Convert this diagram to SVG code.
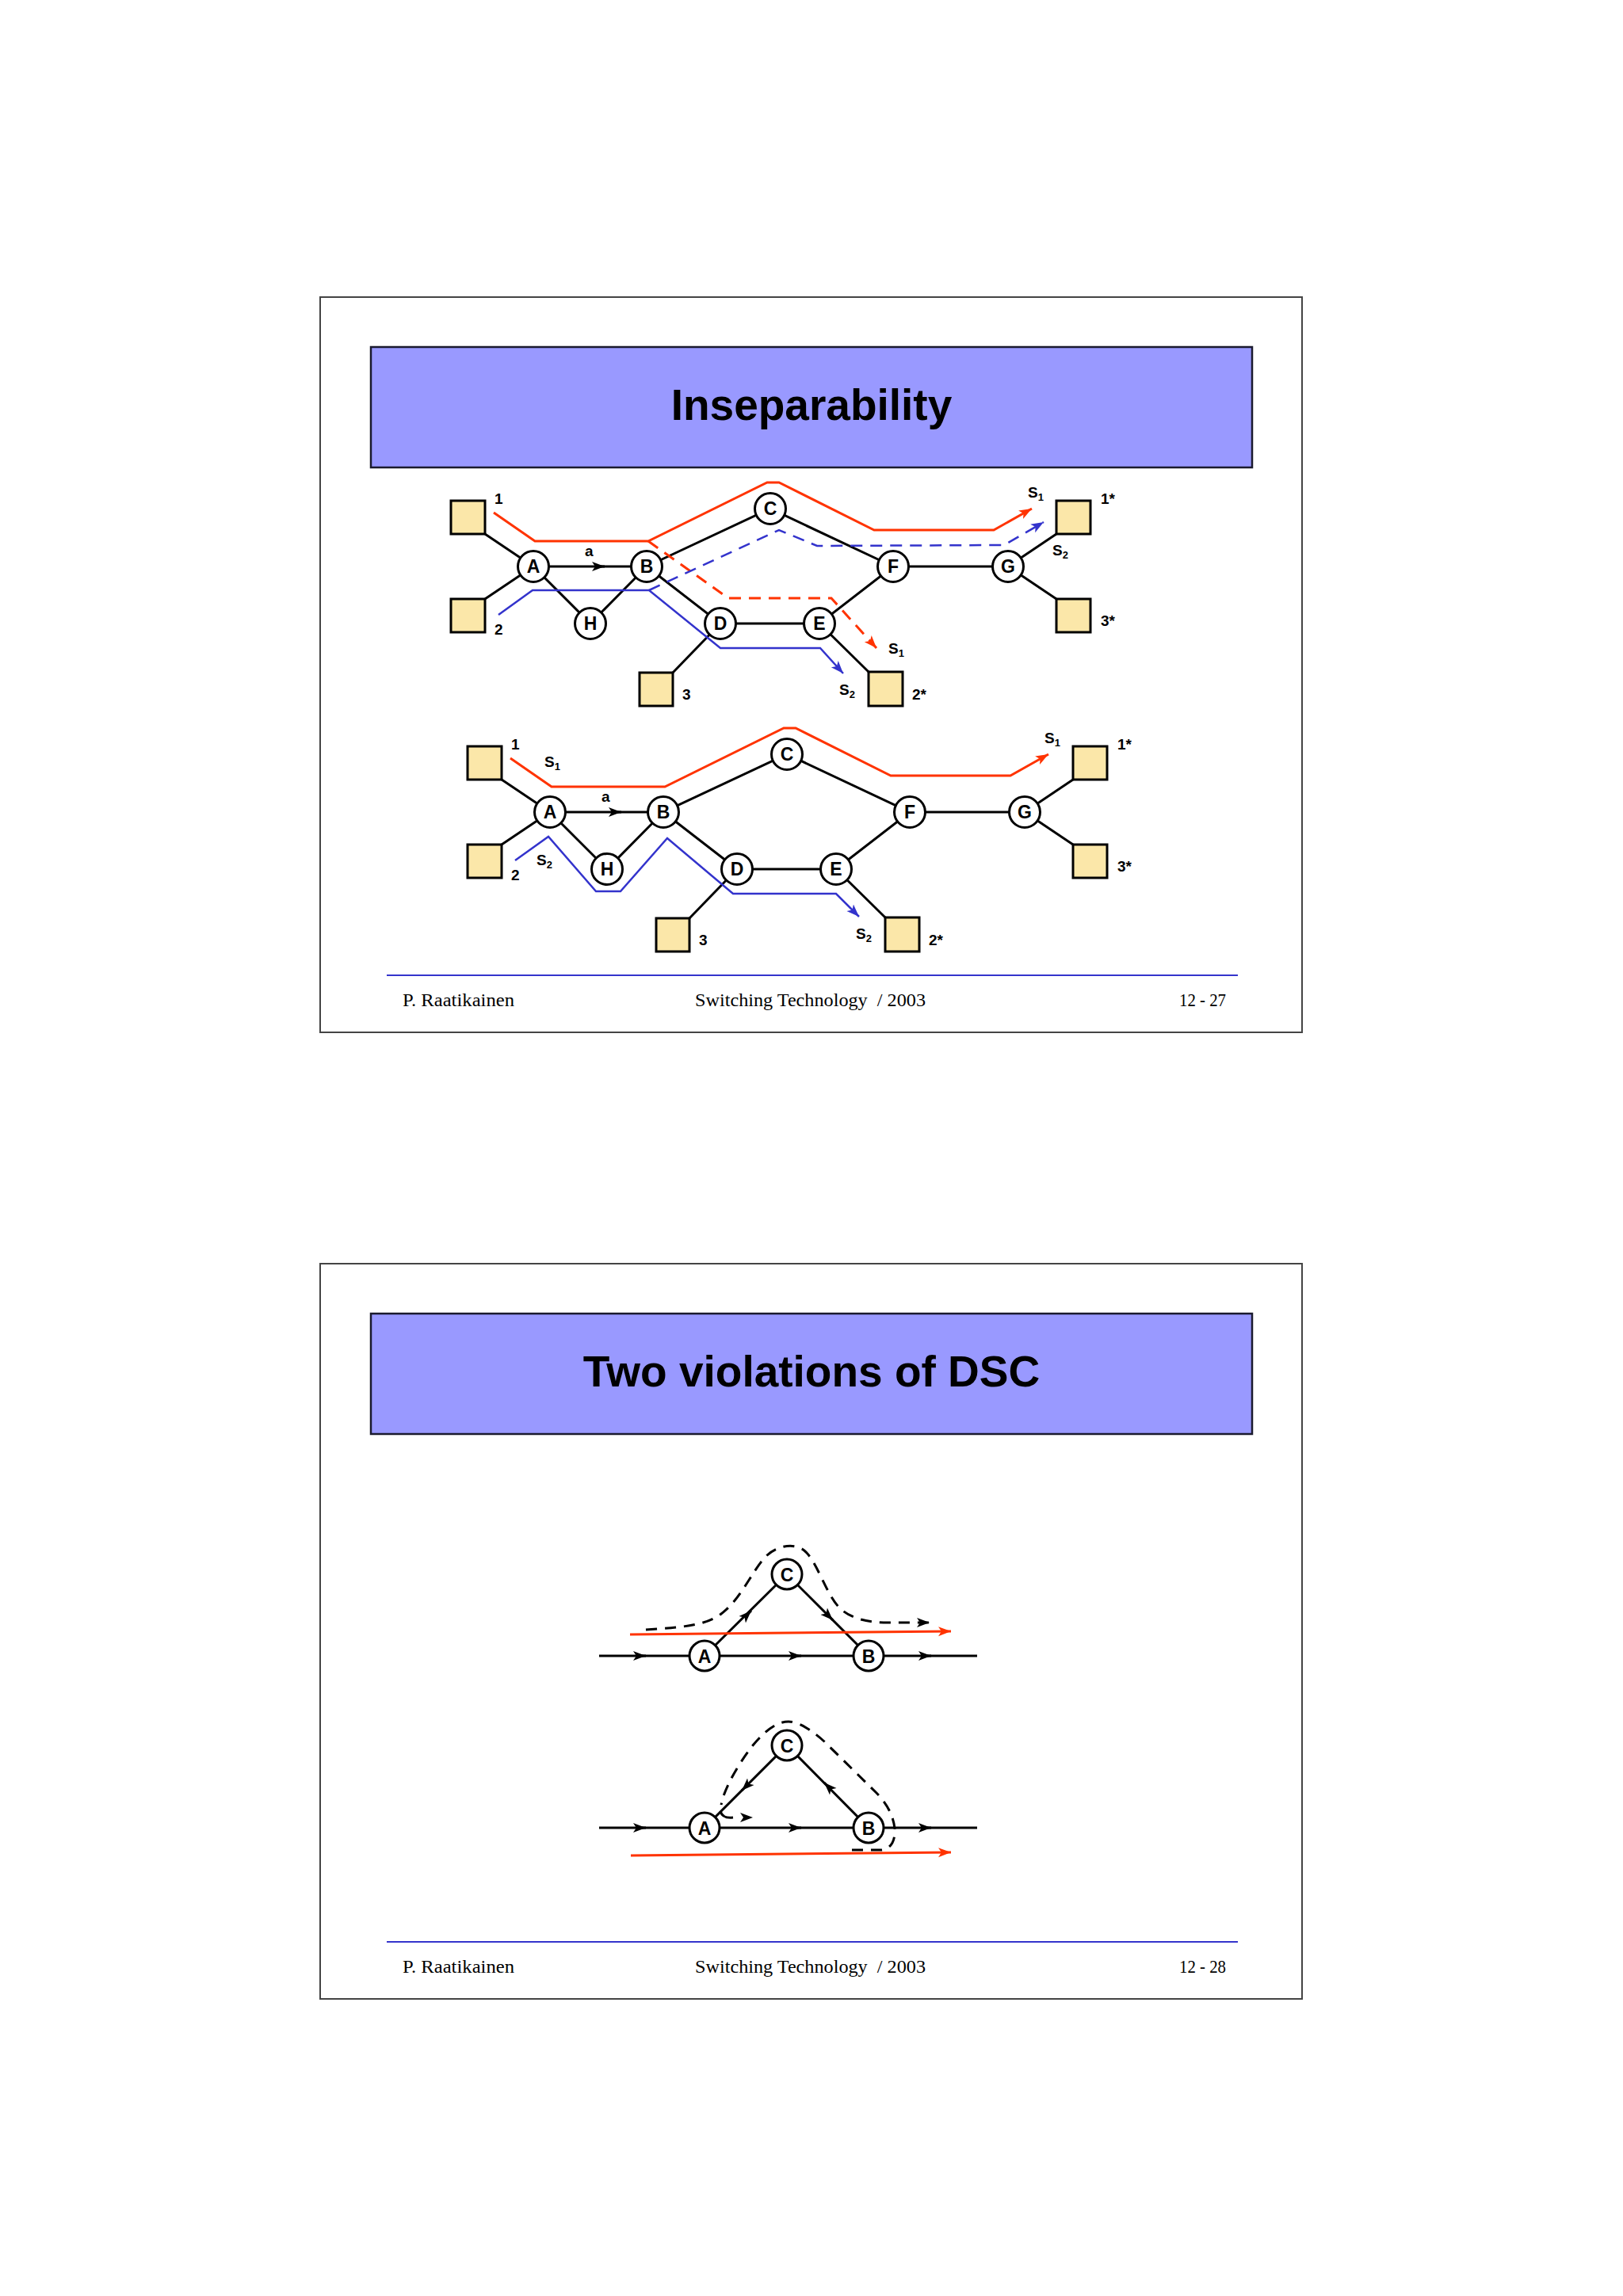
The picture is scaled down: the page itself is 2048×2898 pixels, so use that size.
<svg xmlns="http://www.w3.org/2000/svg" width="2048" height="2898" viewBox="0 0 2048 2898">
<style>
.frame{fill:#fff;stroke:#444;stroke-width:2}
.tbox{fill:#9999ff;stroke:#1a1a2e;stroke-width:2.5}
.ttl{font-family:"Liberation Sans",Arial,sans-serif;font-weight:bold;font-size:55px;text-anchor:middle;fill:#000}
.foot{font-family:"Liberation Serif","Times New Roman",serif;font-size:23px;fill:#000}
.fline{stroke:#3535cc;stroke-width:2}
.edge{stroke:#000;stroke-width:3;fill:none}
.nd{fill:#fff;stroke:#000;stroke-width:3}
.nl{font-family:"Liberation Sans",Arial,sans-serif;font-weight:bold;font-size:23px;text-anchor:middle;fill:#000}
.term{fill:#fbe7a9;stroke:#000;stroke-width:3}
.lbl{font-family:"Liberation Sans",Arial,sans-serif;font-weight:bold;font-size:19px;fill:#000}
.sub{font-size:13px}
.red{stroke:#ff3300;stroke-width:3;fill:none}
.blue{stroke:#3333cc;stroke-width:2.5;fill:none}
.dash{stroke-dasharray:15 10}
.kdash{stroke:#000;stroke-width:3;fill:none;stroke-dasharray:14 10}
</style>
<defs>
<marker id="ak" markerUnits="userSpaceOnUse" markerWidth="18" markerHeight="14" refX="16" refY="7" orient="auto" viewBox="0 0 18 14"><path d="M0,1 L16,7 L0,13 L4,7 z" fill="#000"/></marker>
<marker id="ar" markerUnits="userSpaceOnUse" markerWidth="18" markerHeight="14" refX="16" refY="7" orient="auto" viewBox="0 0 18 14"><path d="M0,1 L16,7 L0,13 L4,7 z" fill="#ff3300"/></marker>
<marker id="ab" markerUnits="userSpaceOnUse" markerWidth="18" markerHeight="14" refX="16" refY="7" orient="auto" viewBox="0 0 18 14"><path d="M0,1 L16,7 L0,13 L4,7 z" fill="#3333cc"/></marker>
</defs>
<rect width="2048" height="2898" fill="#fff"/>

<!-- ================= SLIDE 1 ================= -->
<g id="slide1">
<rect class="frame" x="404" y="375" width="1239" height="928"/>
<rect class="tbox" x="468" y="438" width="1112" height="152"/>
<text class="ttl" x="1024" y="530">Inseparability</text>

<!-- upper diagram -->
<g id="s1-upper">
<g id="s1u-connectors">
<path class="edge" d="M612,674 L673,715"/>
<path class="edge" d="M612,756 L673,715"/>
<path class="edge" d="M673,715 L816,715"/>
<path class="edge" d="M752,715 L763,715" marker-end="url(#ak)"/>
<path class="edge" d="M673,715 L745,787 L816,715"/>
<path class="edge" d="M816,715 L972,642 L1127,715"/>
<path class="edge" d="M816,715 L909,787 L1034,787 L1127,715 L1272,715"/>
<path class="edge" d="M1272,715 L1333,674"/>
<path class="edge" d="M1272,715 L1333,756"/>
<path class="edge" d="M909,787 L849,849"/>
<path class="edge" d="M1034,787 L1096,848"/>
</g>
<g id="s1u-A"><circle class="nd" cx="673" cy="715" r="19.5"/><text class="nl" x="673" y="723">A</text></g>
<g id="s1u-B"><circle class="nd" cx="816" cy="715" r="19.5"/><text class="nl" x="816" y="723">B</text></g>
<g id="s1u-C"><circle class="nd" cx="972" cy="642" r="19.5"/><text class="nl" x="972" y="650">C</text></g>
<g id="s1u-H"><circle class="nd" cx="745" cy="787" r="19.5"/><text class="nl" x="745" y="795">H</text></g>
<g id="s1u-D"><circle class="nd" cx="909" cy="787" r="19.5"/><text class="nl" x="909" y="795">D</text></g>
<g id="s1u-E"><circle class="nd" cx="1034" cy="787" r="19.5"/><text class="nl" x="1034" y="795">E</text></g>
<g id="s1u-F"><circle class="nd" cx="1127" cy="715" r="19.5"/><text class="nl" x="1127" y="723">F</text></g>
<g id="s1u-G"><circle class="nd" cx="1272" cy="715" r="19.5"/><text class="nl" x="1272" y="723">G</text></g>
<g id="s1u-t1"><rect class="term" x="569" y="632" width="43" height="42"/><text class="lbl" x="624" y="636">1</text></g>
<g id="s1u-t2"><rect class="term" x="569" y="756" width="43" height="42"/><text class="lbl" x="624" y="801">2</text></g>
<g id="s1u-t3"><rect class="term" x="807" y="849" width="42" height="42"/><text class="lbl" x="861" y="883">3</text></g>
<g id="s1u-t2s"><rect class="term" x="1096" y="848" width="43" height="43"/><text class="lbl" x="1151" y="883">2*</text></g>
<g id="s1u-t1s"><rect class="term" x="1333" y="632" width="43" height="42"/><text class="lbl" x="1389" y="636">1*</text></g>
<g id="s1u-t3s"><rect class="term" x="1333" y="756" width="43" height="42"/><text class="lbl" x="1389" y="790">3*</text></g>
<text class="lbl" x="738" y="702" font-size="22">a</text>
<g id="s1u-paths">
<path class="red" d="M623,647 L675,683 L818,683 L968,609 L983,609 L1103,669 L1254,669 L1302,642" marker-end="url(#ar)"/>
<path class="red dash" d="M818,683 L919,755 L1049,755 L1106,818" marker-end="url(#ar)"/>
<path class="blue" d="M629,776 L672,745 L819,745 L909,818 L1035,818 L1064,850" marker-end="url(#ab)"/>
<path class="blue dash" d="M819,745 L983,669 L1031,689 L1267,688 L1317,659" marker-end="url(#ab)"/>
</g>
<text class="lbl" x="1297" y="628">S<tspan class="sub" dy="4">1</tspan></text>
<text class="lbl" x="1328" y="701">S<tspan class="sub" dy="4">2</tspan></text>
<text class="lbl" x="1121" y="825">S<tspan class="sub" dy="4">1</tspan></text>
<text class="lbl" x="1059" y="877">S<tspan class="sub" dy="4">2</tspan></text>
</g>

<!-- lower diagram -->
<g id="s1-lower" transform="translate(21,310)">
<g id="s1l-connectors">
<path class="edge" d="M612,674 L673,715"/>
<path class="edge" d="M612,756 L673,715"/>
<path class="edge" d="M673,715 L816,715"/>
<path class="edge" d="M752,715 L763,715" marker-end="url(#ak)"/>
<path class="edge" d="M673,715 L745,787 L816,715"/>
<path class="edge" d="M816,715 L972,642 L1127,715"/>
<path class="edge" d="M816,715 L909,787 L1034,787 L1127,715 L1272,715"/>
<path class="edge" d="M1272,715 L1333,674"/>
<path class="edge" d="M1272,715 L1333,756"/>
<path class="edge" d="M909,787 L849,849"/>
<path class="edge" d="M1034,787 L1096,848"/>
</g>
<g id="s1l-A"><circle class="nd" cx="673" cy="715" r="19.5"/><text class="nl" x="673" y="723">A</text></g>
<g id="s1l-B"><circle class="nd" cx="816" cy="715" r="19.5"/><text class="nl" x="816" y="723">B</text></g>
<g id="s1l-C"><circle class="nd" cx="972" cy="642" r="19.5"/><text class="nl" x="972" y="650">C</text></g>
<g id="s1l-H"><circle class="nd" cx="745" cy="787" r="19.5"/><text class="nl" x="745" y="795">H</text></g>
<g id="s1l-D"><circle class="nd" cx="909" cy="787" r="19.5"/><text class="nl" x="909" y="795">D</text></g>
<g id="s1l-E"><circle class="nd" cx="1034" cy="787" r="19.5"/><text class="nl" x="1034" y="795">E</text></g>
<g id="s1l-F"><circle class="nd" cx="1127" cy="715" r="19.5"/><text class="nl" x="1127" y="723">F</text></g>
<g id="s1l-G"><circle class="nd" cx="1272" cy="715" r="19.5"/><text class="nl" x="1272" y="723">G</text></g>
<g id="s1l-t1"><rect class="term" x="569" y="632" width="43" height="42"/><text class="lbl" x="624" y="636">1</text></g>
<g id="s1l-t2"><rect class="term" x="569" y="756" width="43" height="42"/><text class="lbl" x="624" y="801">2</text></g>
<g id="s1l-t3"><rect class="term" x="807" y="849" width="42" height="42"/><text class="lbl" x="861" y="883">3</text></g>
<g id="s1l-t2s"><rect class="term" x="1096" y="848" width="43" height="43"/><text class="lbl" x="1151" y="883">2*</text></g>
<g id="s1l-t1s"><rect class="term" x="1333" y="632" width="43" height="42"/><text class="lbl" x="1389" y="636">1*</text></g>
<g id="s1l-t3s"><rect class="term" x="1333" y="756" width="43" height="42"/><text class="lbl" x="1389" y="790">3*</text></g>
<text class="lbl" x="738" y="702" font-size="22">a</text>
<g id="s1l-paths">
<path class="red" d="M623,647 L675,683 L818,683 L968,609 L983,609 L1103,669 L1254,669 L1302,642" marker-end="url(#ar)"/>
<path class="blue" d="M629,776 L671,746 L731,815 L762,815 L821,748 L904,818 L1034,818 L1063,847" marker-end="url(#ab)"/>
</g>
<text class="lbl" x="666" y="658">S<tspan class="sub" dy="4">1</tspan></text>
<text class="lbl" x="656" y="782">S<tspan class="sub" dy="4">2</tspan></text>
<text class="lbl" x="1297" y="628">S<tspan class="sub" dy="4">1</tspan></text>
<text class="lbl" x="1059" y="875">S<tspan class="sub" dy="4">2</tspan></text>
</g>

<line class="fline" x1="488" y1="1231" x2="1562" y2="1231"/>
<text class="foot" x="508" y="1270" textLength="141" lengthAdjust="spacingAndGlyphs">P. Raatikainen</text>
<text class="foot" x="877" y="1270" textLength="291" lengthAdjust="spacingAndGlyphs" xml:space="preserve">Switching Technology  / 2003</text>
<text class="foot" x="1488" y="1270" textLength="59" lengthAdjust="spacingAndGlyphs">12 - 27</text>
</g>

<!-- ================= SLIDE 2 ================= -->
<g id="slide2">
<rect class="frame" x="404" y="1595" width="1239" height="928"/>
<rect class="tbox" x="468" y="1658" width="1112" height="152"/>
<text class="ttl" x="1024" y="1750">Two violations of DSC</text>

<!-- figure 1 -->
<g id="s2-fig1">
<g id="s2f1-connectors">
<path class="edge" d="M756,2090 L1233,2090"/>
<path class="edge" d="M805,2090 L815,2090" marker-end="url(#ak)"/>
<path class="edge" d="M1001,2090 L1011,2090" marker-end="url(#ak)"/>
<path class="edge" d="M1165,2090 L1175,2090" marker-end="url(#ak)"/>
<path class="edge" d="M889,2090 L993,1987 L1096,2090"/>
<path class="edge" d="M941,2040 L948,2033" marker-end="url(#ak)"/>
<path class="edge" d="M1044,2038 L1051,2045" marker-end="url(#ak)"/>
<path class="red" d="M795,2063 L1200,2059" marker-end="url(#ar)"/>
<path class="kdash" d="M815,2057 C860,2054 890,2052 910,2037 C935,2018 948,1985 965,1966 C978,1951 1005,1945 1018,1960 C1032,1975 1042,2010 1058,2028 C1072,2043 1095,2048 1120,2048 L1173,2048" marker-end="url(#ak)"/>
</g>
<g id="s2f1-A"><circle class="nd" cx="889" cy="2090" r="19"/><text class="nl" x="889" y="2099" font-size="24">A</text></g>
<g id="s2f1-B"><circle class="nd" cx="1096" cy="2090" r="19"/><text class="nl" x="1096" y="2099" font-size="24">B</text></g>
<g id="s2f1-C"><circle class="nd" cx="993" cy="1987" r="19"/><text class="nl" x="993" y="1996" font-size="24">C</text></g>
</g>

<!-- figure 2 -->
<g id="s2-fig2">
<g id="s2f2-connectors">
<path class="edge" d="M756,2307 L1233,2307"/>
<path class="edge" d="M805,2307 L815,2307" marker-end="url(#ak)"/>
<path class="edge" d="M1001,2307 L1011,2307" marker-end="url(#ak)"/>
<path class="edge" d="M1165,2307 L1175,2307" marker-end="url(#ak)"/>
<path class="edge" d="M889,2307 L993,2203 L1096,2307"/>
<path class="edge" d="M943,2253 L936,2260" marker-end="url(#ak)"/>
<path class="edge" d="M1047,2257 L1040,2250" marker-end="url(#ak)"/>
<path class="red" d="M796,2342 L1200,2338" marker-end="url(#ar)"/>
<path class="kdash" d="M1075,2335 L1112,2335 C1125,2334 1130,2322 1129,2308 C1127,2290 1118,2275 1105,2262 L1040,2198 C1020,2180 1005,2173 995,2173 C980,2173 965,2185 950,2203 C935,2222 918,2250 912,2270 L910,2278"/>
<path class="edge" d="M909,2286 C911,2293 916,2295 925,2294"/>
<path d="M944,2294 L950,2294" fill="none" stroke="none" marker-end="url(#ak)"/>
</g>
<g id="s2f2-A"><circle class="nd" cx="889" cy="2307" r="19"/><text class="nl" x="889" y="2316" font-size="24">A</text></g>
<g id="s2f2-B"><circle class="nd" cx="1096" cy="2307" r="19"/><text class="nl" x="1096" y="2316" font-size="24">B</text></g>
<g id="s2f2-C"><circle class="nd" cx="993" cy="2203" r="19"/><text class="nl" x="993" y="2212" font-size="24">C</text></g>
</g>

<line class="fline" x1="488" y1="2451" x2="1562" y2="2451"/>
<text class="foot" x="508" y="2490" textLength="141" lengthAdjust="spacingAndGlyphs">P. Raatikainen</text>
<text class="foot" x="877" y="2490" textLength="291" lengthAdjust="spacingAndGlyphs" xml:space="preserve">Switching Technology  / 2003</text>
<text class="foot" x="1488" y="2490" textLength="59" lengthAdjust="spacingAndGlyphs">12 - 28</text>
</g>
</svg>
